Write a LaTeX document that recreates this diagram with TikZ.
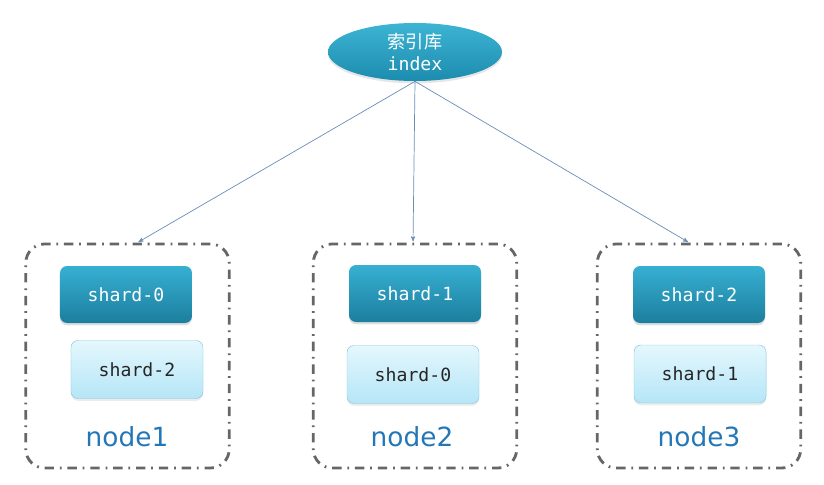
\documentclass[tikz,border=0pt]{standalone}
\usepackage{fontspec}
\setmonofont{DejaVu Sans Mono}
\setsansfont{DejaVu Sans}
\newfontfamily\cjk{Noto Sans CJK SC}
\usetikzlibrary{arrows,shapes.geometric,shadows}

\definecolor{idxtop}{HTML}{3DB4D4}
\definecolor{idxbot}{HTML}{1C8CAE}
\definecolor{primtop}{HTML}{37B0D2}
\definecolor{primbot}{HTML}{1C7E9E}
\definecolor{reptop}{HTML}{E4F7FD}
\definecolor{repbot}{HTML}{B5E6F7}
\definecolor{repline}{HTML}{86C6DC}
\definecolor{dashgray}{HTML}{666666}
\definecolor{linkblue}{HTML}{6A8DB8}
\definecolor{labelblue}{HTML}{2377B6}

\begin{document}
\begin{tikzpicture}[x=0.03cm,y=-0.03cm,->,>={stealth'[scale=1.7]},shorten >=1pt,semithick]
    \tikzstyle{every node}=[font=\fontsize{15.5}{20}\selectfont]
    \tikzstyle{library}=[ellipse,top color=idxtop,bottom color=idxbot,draw=none,text=white,
        minimum width=5.22cm,minimum height=1.74cm,inner sep=0pt,align=center,
        drop shadow={opacity=0.2,shadow xshift=0pt,shadow yshift=-2pt}]
    \tikzstyle{machine}=[draw=dashgray,line width=2.4pt,rounded corners=16pt,
        dash pattern=on 8pt off 5pt on 1.5pt off 5pt,minimum width=6.1cm,minimum height=6.72cm]
    \tikzstyle{primary}=[rounded corners=6pt,top color=primtop,bottom color=primbot,draw=none,
        text=white,font=\ttfamily\fontsize{15.5}{20}\selectfont,minimum width=3.96cm,minimum height=1.71cm,
        drop shadow={opacity=0.25,shadow xshift=0pt,shadow yshift=-2pt}]
    \tikzstyle{replica}=[rounded corners=6pt,top color=reptop,bottom color=repbot,draw=repline,thin,
        text=black!85,font=\ttfamily\fontsize{15.5}{20}\selectfont,minimum width=3.96cm,minimum height=1.74cm,
        drop shadow={opacity=0.15,shadow xshift=0pt,shadow yshift=-2pt}]
    \tikzstyle{label}=[text=labelblue,font=\sffamily\fontsize{22.5}{26}\selectfont]

    \useasboundingbox (0,0) rectangle (824,485);

    \node[library] (index) at (415,52) {{\cjk 索引库}\\[-2pt]\ttfamily index};

    \node[machine] (box1) at (127.5,356) {};
    \node[machine] (box2) at (415,356) {};
    \node[machine] (box3) at (699,356) {};

    \node[primary] (p0) at (126,294.5) {shard-0};
    \node[replica] (r2) at (137,369.5) {shard-2};
    \node[primary] (p1) at (415,293.5) {shard-1};
    \node[replica] (r0) at (413,374.5) {shard-0};
    \node[primary] (p2) at (699,294.5) {shard-2};
    \node[replica] (r1) at (700,374) {shard-1};

    \node[label] (n1) at (127,437) {node1};
    \node[label] (n2) at (412,437) {node2};
    \node[label] (n3) at (699,437) {node3};

    \path[linkblue,line width=0.6pt] (index.south) edge (box1.85)
    (index.south) edge (box2.91)
    (index.south) edge (box3.95);
\end{tikzpicture}
\end{document}
